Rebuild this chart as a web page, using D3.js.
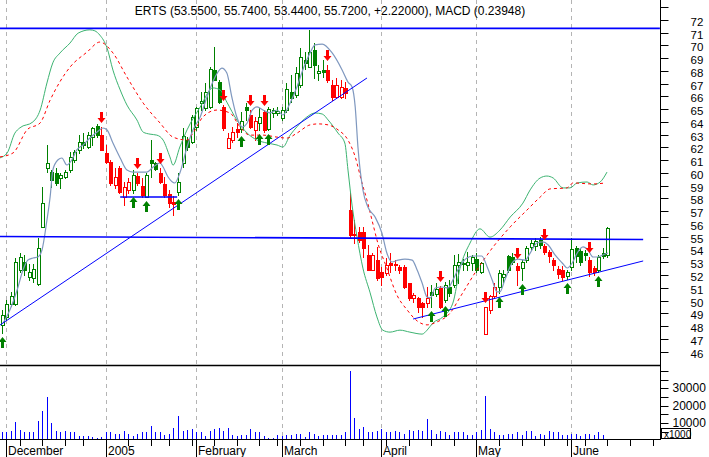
<!DOCTYPE html>
<html><head><meta charset="utf-8">
<script src="https://cdn.jsdelivr.net/npm/d3@7"></script>
<style>
html,body{margin:0;padding:0;background:#fff;}
svg{display:block;}
text{font-family:"Liberation Sans",Arial,sans-serif;}
</style></head><body>
<svg id="c" width="709" height="457"></svg>
<script>
// ---------------- data ----------------
const ticker = "ERTS";
const firstDay = "2004-11-30";
const holidays = ["2004-12-24","2005-01-17","2005-02-21","2005-03-25","2005-05-30","2005-07-04"];

const open = [
48.08,48.71,49.73,49.73,52.39,53.02,51.84,51.76,51.29,55.76,
60.39,60.07,59.99,59.60,59.68,60.23,61.01,61.80,62.42,62.03,
62.81,63.68,62.97,61.56,60.85,59.05,60.39,58.11,58.66,58.66,
59.76,58.97,58.11,61.01,60.78,59.99,59.13,58.35,57.72,58.50,
60.78,62.58,62.42,63.60,65.48,65.09,65.17,68.07,67.12,65.17,
61.95,62.58,63.44,63.44,65.17,64.54,63.36,63.91,64.77,63.44,
64.70,64.70,64.30,64.93,66.34,66.11,66.89,68.85,68.30,69.63,
67.83,68.07,68.07,66.89,65.95,65.95,66.66,57.09,55.10,55.37,
55.37,53.57,52.39,53.17,52.23,52.15,52.94,52.90,52.62,52.62,
51.37,50.20,50.20,49.80,49.80,50.67,50.51,50.98,50.04,51.06,
51.22,52.78,52.90,52.78,52.94,53.25,52.23,47.38,49.26,50.35,
51.06,51.84,53.49,53.41,52.70,52.55,53.17,54.20,54.27,54.74,
54.27,53.80,53.17,52.47,52.39,51.92,52.62,54.12,53.88,53.72,
53.17,52.55,52.39,53.72,53.55];
const high = [
49.26,50.04,50.67,53.33,53.72,53.57,52.90,52.86,54.90,58.90,
62.19,60.23,60.39,59.99,60.23,61.64,61.80,62.97,63.10,63.20,
63.60,63.80,63.63,62.19,61.01,60.39,60.54,59.29,59.60,60.23,
60.00,59.60,60.00,62.58,60.85,60.39,59.68,58.66,58.20,60.00,
63.52,62.81,64.54,65.17,66.34,67.05,68.30,69.87,67.28,65.32,
63.10,63.60,63.91,64.77,65.48,64.93,64.38,65.09,64.93,65.17,
65.09,65.17,65.17,67.05,67.67,68.30,69.79,69.48,71.20,70.19,
68.46,68.85,68.46,67.28,67.44,67.28,67.12,58.43,56.30,55.76,
55.76,54.35,53.72,54.20,52.62,53.33,53.72,53.17,52.78,52.78,
51.37,50.59,50.28,49.88,51.06,51.22,51.37,51.14,51.45,51.61,
53.57,53.64,53.25,53.80,53.57,53.72,53.02,49.49,50.43,51.37,
52.39,52.39,53.57,53.72,52.94,53.17,54.27,54.74,54.90,54.98,
54.43,53.96,53.33,52.70,52.70,52.39,54.90,54.27,54.12,53.96,
53.41,52.70,53.57,54.12,55.74];
const low = [
47.45,48.47,49.57,49.65,52.23,52.00,51.60,51.45,51.20,55.76,
60.07,58.90,59.05,58.80,59.60,60.07,60.85,61.56,61.95,61.95,
62.19,62.80,61.80,60.78,59.05,58.82,58.43,57.48,58.43,58.43,
59.05,58.11,58.11,59.68,60.23,59.21,58.11,57.33,56.70,58.30,
60.47,61.80,62.34,63.36,64.93,64.93,65.09,67.28,65.48,63.36,
61.95,62.42,62.81,63.20,64.15,63.52,62.58,63.36,63.20,63.36,
64.38,64.54,64.15,64.77,65.56,65.95,66.74,68.15,68.30,67.44,
67.28,67.52,67.12,65.71,65.87,65.87,65.87,54.98,54.50,54.59,
53.41,52.39,52.39,51.61,51.22,52.00,52.23,52.39,52.15,50.98,
50.04,49.88,49.10,48.71,49.49,49.49,50.35,49.41,49.88,50.35,
51.06,51.37,52.39,52.39,52.39,52.23,52.15,47.38,49.02,50.20,
50.59,51.45,52.23,52.86,51.22,51.61,53.02,53.96,53.96,54.12,
53.64,53.02,52.39,51.76,51.61,51.69,52.39,53.02,52.78,53.17,
51.92,52.00,52.23,53.33,53.44];
const close = [
48.86,49.73,50.35,53.02,53.41,52.39,52.20,52.47,54.12,57.64,
60.78,59.44,59.21,59.84,60.07,61.25,61.64,62.42,62.19,62.97,
63.52,62.97,61.80,60.85,59.21,59.68,58.50,58.90,59.29,59.84,
59.21,58.27,59.84,60.78,60.31,59.29,58.27,57.64,57.56,59.30,
62.89,62.03,64.38,65.09,65.64,66.34,68.15,67.28,65.56,63.52,
62.73,63.20,63.20,64.07,64.93,63.60,64.07,64.38,63.36,65.00,
64.93,64.85,64.93,66.58,65.87,67.83,69.09,68.62,69.48,68.46,
67.99,67.91,67.28,65.95,66.89,66.74,66.27,55.13,55.20,54.74,
54.12,52.39,53.57,51.76,51.84,52.78,52.78,52.80,52.39,51.06,
50.20,50.43,49.49,49.49,50.20,50.43,50.90,49.49,51.22,50.59,
52.78,53.02,52.94,53.02,53.41,52.39,52.94,49.49,50.35,51.06,
52.15,52.08,52.39,53.02,52.39,53.02,54.12,54.50,54.67,54.35,
53.80,53.49,52.78,52.08,51.84,52.23,54.04,53.49,53.02,53.57,
52.23,52.23,53.41,53.50,55.72];
// volume in thousands of shares
const volume = [
4500,4500,5600,10800,6000,5000,4500,5000,11100,16900,
25000,10200,5600,4500,5600,4500,4500,2600,2600,2600,
2000,1400,2000,4500,4500,3700,3700,5600,3700,2600,
3700,4500,4500,8500,4500,4500,3100,3700,7100,14200,
5600,6000,6600,4500,4500,2600,5600,6600,7100,5600,
7100,3100,2600,3100,3100,6600,4500,5000,2600,1400,
1400,3100,2600,3100,3100,3700,3700,2000,5000,3700,
2600,3100,3100,3100,3100,3100,4500,39700,13000,6600,
7900,5000,5000,5600,6600,4500,4500,5600,4500,3700,
6000,5600,6000,5600,12300,6000,3700,5600,4500,3100,
5000,5000,5000,3100,3100,4500,6000,25600,6600,5000,
3100,3100,3700,3700,5000,3100,5600,5600,2600,3700,
3100,5600,4500,4500,3100,3100,3700,3700,2600,3700,
3700,3100,4500,3100,null];
// MACD-vs-signal state of every bar (G = MACD above signal, R = below)
const trend =
 "GGGGGGGGGGGGGGGGGGGGGG" + "RRRRRRR" + "G" + "RR" + "GGG" + "RRRR" +
 "GGGGGGGGGG" + "RRRR" + "GG" + "RR" + "G" + "R" + "GGGGGGGGGGGGG" +
 "RRRRRRRRRRRRRRRRRRRRRRR" + "GG" + "R" + "GGGGGGGGG" + "RRR" + "GGGG" +
 "R" + "GGGGG" + "RRRRR" + "GGGGG" + "RR" + "GGG";

// short moving average [bar, price]
const maPts = [
[0.2,48.24],[1.7,49.26],[3.3,50.82],[4.6,52.39],[5.7,53.17],[6.8,53.33],[7.9,53.41],[8.8,53.96],
[9.9,56.31],[10.6,58.11],[11.2,60.23],[12.3,61.01],[13.2,61.17],[14.3,60.62],[15.4,61.01],[16.5,61.80],
[17.9,62.19],[19.4,62.74],[21.0,63.21],[22.3,63.52],[23.2,63.36],[24.5,62.34],[26.1,61.17],[27.6,60.23],
[28.9,60.07],[30.5,60.07],[32.0,60.07],[33.4,60.46],[34.9,60.78],[35.6,60.46],[36.7,59.68],[38.2,59.21],
[39.3,59.99],[40.9,62.03],[42.2,63.36],[43.8,64.38],[45.3,65.95],[47.1,67.52],[48.6,68.22],[49.7,67.83],
[50.8,65.95],[51.9,64.38],[53.1,63.60],[54.2,63.91],[55.3,64.93],[56.4,65.17],[57.7,64.93],[59.2,64.70],
[60.8,64.93],[62.1,64.54],[63.7,65.48],[65.2,66.73],[66.5,68.07],[68.1,69.40],[69.2,70.03],[70.8,70.10],
[73.0,69.40],[75.2,68.07],[76.5,67.12],[77.4,66.73],[78.1,65.16],[78.7,62.03],[79.8,58.66],[80.9,57.33],
[82.5,56.54],[84.0,55.29],[85.1,53.72],[86.2,53.02],[87.6,53.17],[89.1,53.25],[90.7,53.17],[91.8,52.39],
[92.9,51.37],[94.0,50.27],[94.7,50.20],[95.8,50.98],[97.3,51.06],[98.6,50.98],[99.7,51.61],[100.8,52.39],
[102.8,53.33],[104.2,53.49],[106.1,53.49],[107.3,52.63],[108.4,51.61],[109.5,50.67],[110.1,50.67],[111.2,51.61],
[112.8,52.94],[114.1,53.25],[115.7,53.17],[116.8,53.72],[118.3,54.51],[119.6,54.59],[120.8,54.35],[122.3,53.57],
[123.9,52.94],[125.0,52.55],[126.1,52.94],[127.2,53.72],[128.5,54.20],[129.6,53.96],[130.7,53.41],[131.8,53.41],
[132.9,53.57],[134.0,53.72]];
// MACD line [bar, value]
const macdPts = [
[-0.5,0.67],[1.1,0.82],[2.8,1.42],[3.9,1.58],[6.8,1.76],[8.4,2.12],[9.9,2.94],[11.2,3.55],[12.8,3.85],
[15.0,4.15],[16.8,4.45],[19.4,4.55],[20.5,4.52],[21.6,4.39],[23.2,4.00],[24.5,3.33],[26.1,2.73],[27.6,2.27],
[29.8,1.82],[31.2,1.45],[32.7,1.39],[34.2,1.36],[35.6,1.21],[37.1,0.70],[37.8,0.45],[39.3,1.00],[40.9,1.52],
[43.8,2.21],[46.6,2.79],[48.2,2.73],[49.7,2.36],[51.9,1.82],[54.2,1.42],[56.4,1.21],[58.6,1.12],[60.8,1.06],
[62.1,1.00],[63.7,1.36],[65.2,1.61],[67.4,1.91],[69.2,2.03],[70.8,2.00],[72.1,1.82],[74.3,1.42],[75.8,1.12],
[76.5,0.30],[77.4,-0.76],[78.5,-1.73],[79.8,-2.67],[81.4,-3.42],[82.9,-4.15],[84.2,-4.55],[85.8,-4.61],
[88.0,-4.55],[90.2,-4.61],[92.9,-4.67],[94.0,-4.55],[95.3,-4.33],[97.5,-4.15],[99.7,-3.73],[101.3,-2.67],
[103.5,-1.91],[105.7,-1.48],[107.9,-1.73],[110.1,-1.52],[112.4,-1.12],[115.2,-0.70],[116.8,-0.30],[119.0,0.06],
[120.5,0.12],[121.9,0.06],[124.1,-0.24],[125.6,-0.24],[127.2,-0.09],[129.4,-0.06],[130.7,-0.15],[132.3,-0.06],
[133.8,0.23948]];
// signal line [bar, value]
const signalPts = [
[-0.5,0.70],[2.4,0.82],[5.5,1.52],[8.4,1.73],[10.6,2.42],[15.0,3.42],[18.8,3.88],[21.6,4.18],[24.5,3.85],
[27.6,3.12],[31.2,2.33],[34.9,1.73],[37.8,1.30],[40.9,1.21],[42.2,1.42],[44.4,1.91],[47.5,2.12],[50.4,2.03],
[52.6,1.61],[54.8,1.36],[57.7,1.36],[60.8,1.30],[63.0,1.27],[65.2,1.42],[68.1,1.67],[69.9,1.70],[72.1,1.67],
[74.3,1.52],[76.5,1.21],[78.1,0.70],[79.6,-0.09],[80.7,-0.61],[81.8,-1.21],[83.1,-1.91],[85.1,-2.67],
[87.3,-3.48],[89.6,-3.94],[91.8,-4.27],[94.0,-4.39],[96.2,-4.30],[99.1,-4.03],[101.3,-3.55],[105.0,-2.73],
[108.6,-2.03],[112.4,-1.42],[116.1,-0.91],[119.0,-0.52],[121.2,-0.27],[124.9,-0.24],[126.3,-0.09],[130.7,-0.12],
[133.4,-0.09]];
// drawn lines [bar0, price0, bar1, price1]
const thinTrendLines = [[-0.49,48.08,80.7,67.44],[90.9,48.55,141.8,53.10]];
const thickLevelLines = [[-0.49,55.02,141.8,54.78],[-0.49,71.33,145.5,71.33],[26.1,58.11,38.7,58.11]];

const priceTicks = [46,47,48,49,50,51,52,53,54,55,56,57,58,59,60,61,62,63,64,65,66,67,68,69,70,71,72,73];
const priceLabels = [46,47,48,49,50,51,52,53,54,55,56,57,58,59,60,61,62,63,64,65,66,67,68,69,70,71,72];
const volTicks = [5000,10000,15000,20000,25000,30000,35000,40000];
const volLabels = [10000,20000,30000];

// ---------------- drawing ----------------
const svg = d3.select("#c");
const GREEN = "#008000", RED = "#ff0000", BLUE = "#0000ff";
const right = 660, priceBottom = 364, volTop = 365, axisY = 439;

const x = d3.scaleLinear().domain([0, 134]).range([2.2, 607.9]);
const y = d3.scaleLinear().domain([46, 72]).range([351.56, 19.8]);
const vy = d3.scaleLinear().domain([0, 40000]).range([440.3, 370.9]);
const my = d3.scaleLinear().domain([-5, 5]).range([345, 15]);
const col = i => Math.floor(x(i));

svg.append("rect").attr("width",709).attr("height",457).attr("fill","#fff");

// calendar
const hol = new Set(holidays);
const fmt = d3.utcFormat("%Y-%m-%d");
const days = [];
let dd = d3.utcParse("%Y-%m-%d")(firstDay);
while (days.length < 170) {
  const wd = dd.getUTCDay();
  if (wd !== 0 && wd !== 6 && !hol.has(fmt(dd))) days.push(new Date(dd));
  dd = d3.utcDay.offset(dd, 1);
}
const maxIdx = x.invert(right);
const monthStarts = [], weekStarts = [];
days.forEach((dt, i) => {
  if (i === 0 || i > maxIdx) return;
  const p = days[i-1];
  if (dt.getUTCMonth() !== p.getUTCMonth()) monthStarts.push(i);
  if (+d3.utcMonday.floor(dt) !== +d3.utcMonday.floor(p)) weekStarts.push(i);
});

// grid
svg.append("g").selectAll("line").data(monthStarts).join("line")
  .attr("x1", i => col(i)+0.5).attr("x2", i => col(i)+0.5)
  .attr("y1", 0).attr("y2", axisY)
  .attr("stroke", "#b4b4b4").attr("stroke-dasharray", "4,4");

const plot = svg.append("g");
plot.append("clipPath").attr("id","pc").append("rect").attr("x",0).attr("y",0).attr("width",right).attr("height",priceBottom);
const pg = plot.append("g").attr("clip-path","url(#pc)");

// candles
const n = close.length;
const idx = d3.range(n);
const colorOf = i => trend[i] === "R" ? RED : GREEN;
pg.append("g").selectAll("line").data(idx).join("line")
  .attr("x1", i => col(i)+0.5).attr("x2", i => col(i)+0.5)
  .attr("y1", i => Math.round(y(high[i]))).attr("y2", i => Math.round(y(low[i]))+1)
  .attr("stroke", colorOf);
pg.append("g").selectAll("rect").data(idx).join("rect")
  .each(function(i){
    const top = Math.round(y(Math.max(open[i], close[i])));
    const bot = Math.round(y(Math.min(open[i], close[i])));
    const r = d3.select(this);
    if (close[i] < open[i]) {
      r.attr("x", col(i)-1).attr("y", top).attr("width", 4).attr("height", Math.max(bot-top+1, 2))
       .attr("fill", colorOf(i));
    } else {
      r.attr("x", col(i)-0.5).attr("y", top+0.5).attr("width", 3).attr("height", Math.max(bot-top, 1))
       .attr("fill", "#fff").attr("stroke", colorOf(i));
    }
  });

// indicator lines
const line = (sy) => d3.line().x(d => x(d[0])).y(d => sy(d[1])).curve(d3.curveMonotoneX);
pg.append("path").attr("d", line(my)(macdPts)).attr("fill","none").attr("stroke","#3cb371").attr("stroke-width",1);
pg.append("path").attr("d", line(my)(signalPts)).attr("fill","none").attr("stroke",RED).attr("stroke-width",1).attr("stroke-dasharray","3,3");
pg.append("path").attr("d", line(y)(maPts)).attr("fill","none").attr("stroke","#7f98bf").attr("stroke-width",1.2);

// drawn trend lines
pg.append("g").selectAll("line").data(thinTrendLines).join("line")
  .attr("x1", d => x(d[0])).attr("y1", d => y(d[1])).attr("x2", d => x(d[2])).attr("y2", d => y(d[3]))
  .attr("stroke", BLUE).attr("stroke-width", 1);
pg.append("g").selectAll("line").data(thickLevelLines).join("line")
  .attr("x1", d => x(d[0])).attr("y1", d => y(d[1])).attr("x2", d => x(d[2])).attr("y2", d => y(d[3]))
  .attr("stroke", BLUE).attr("stroke-width", 1.6);

// signal arrows
const sigs = idx.filter(i => i === 0 || trend[i] !== trend[i-1]);
pg.append("g").selectAll("path").data(sigs).join("path")
  .attr("d", i => {
    const cx = col(i)+0.5;
    if (trend[i] === "G") {
      const t = Math.round(y(low[i])) + 4;
      return `M${cx},${t}L${cx+4},${t+5}L${cx+1.5},${t+5}L${cx+1.5},${t+11}L${cx-1.5},${t+11}L${cx-1.5},${t+5}L${cx-4},${t+5}Z`;
    } else {
      const t = Math.round(y(high[i])) - 4;
      return `M${cx},${t}L${cx+4},${t-5}L${cx+1.5},${t-5}L${cx+1.5},${t-11}L${cx-1.5},${t-11}L${cx-1.5},${t-5}L${cx-4},${t-5}Z`;
    }
  })
  .attr("fill", i => trend[i] === "G" ? GREEN : RED);

// volume bars
svg.append("g").selectAll("rect").data(idx.filter(i => volume[i] != null)).join("rect")
  .attr("x", i => col(i)).attr("width", 1)
  .attr("y", i => Math.round(vy(volume[i]))).attr("height", i => axisY - Math.round(vy(volume[i])))
  .attr("fill", BLUE);

// frame lines
svg.append("line").attr("x1",0).attr("x2",right).attr("y1",volTop+0.5).attr("y2",volTop+0.5).attr("stroke","#000").attr("stroke-width",1.5);
svg.append("line").attr("x1",0).attr("x2",right).attr("y1",axisY+0.5).attr("y2",axisY+0.5).attr("stroke","#000");
svg.append("line").attr("x1",right+0.5).attr("x2",right+0.5).attr("y1",0).attr("y2",axisY+1).attr("stroke","#000");

// price axis
const pa = svg.append("g").attr("transform",`translate(${right+0.5},0)`)
  .call(d3.axisRight(y).tickValues(priceTicks).tickSize(8).tickPadding(22)
        .tickFormat(d => priceLabels.includes(d) ? d : ""));
pa.select(".domain").remove();
pa.selectAll(".tick").attr("transform", d => `translate(0,${Math.round(y(d))+0.5})`);
pa.selectAll("line").attr("stroke","#000");
pa.selectAll("text").attr("font-size",11.5).attr("font-family","Liberation Sans, Arial, sans-serif").attr("fill","#000").attr("dy","0.5em");

// x1000 box
svg.append("rect").attr("x",661.5).attr("y",428.5).attr("width",29).attr("height",10).attr("fill","#fff").attr("stroke","#000");
svg.append("text").attr("x",664).attr("y",438).attr("font-size",10).text("x1000");

// volume axis
const va = svg.append("g").attr("transform",`translate(${right+0.5},0)`)
  .call(d3.axisRight(vy).tickValues(volTicks).tickSize(8).tickPadding(4)
        .tickFormat(d => volLabels.includes(d) ? d : ""));
va.select(".domain").remove();
va.selectAll(".tick").attr("transform", d => `translate(0,${Math.round(vy(d))+0.5})`);
va.selectAll("line").attr("stroke","#000");
va.selectAll("text").attr("font-size",12).attr("font-family","Liberation Sans, Arial, sans-serif").attr("fill","#000").attr("dy","0.3em");

// time axis
svg.append("g").selectAll("line").data(weekStarts).join("line")
  .attr("x1", i => col(i)+0.5).attr("x2", i => col(i)+0.5)
  .attr("y1", axisY).attr("y2", axisY+7).attr("stroke","#000");
svg.append("g").selectAll("line").data(monthStarts).join("line")
  .attr("x1", i => col(i)+0.5).attr("x2", i => col(i)+0.5)
  .attr("y1", axisY).attr("y2", 457).attr("stroke","#000");
const mfmt = d3.utcFormat("%B"), yfmt = d3.utcFormat("%Y");
svg.append("g").selectAll("text").data(monthStarts).join("text")
  .attr("x", i => col(i)+2).attr("y", 455).attr("font-size",12)
  .text(i => days[i].getUTCMonth() === 0 ? yfmt(days[i]) : mfmt(days[i]));

// title
const L = n-1;
const chg = close[L] - close[L-1];
const macdLast = macdPts[macdPts.length-1][1];
svg.append("text").attr("x", 330).attr("y", 15).attr("text-anchor","middle").attr("font-size",12)
  .text(`${ticker} (${open[L].toFixed(4)}, ${high[L].toFixed(4)}, ${low[L].toFixed(4)}, ${close[L].toFixed(4)}, ${chg>=0?"+":""}${chg.toFixed(5)}), MACD (${macdLast.toFixed(5)})`);
</script>
</body></html>
